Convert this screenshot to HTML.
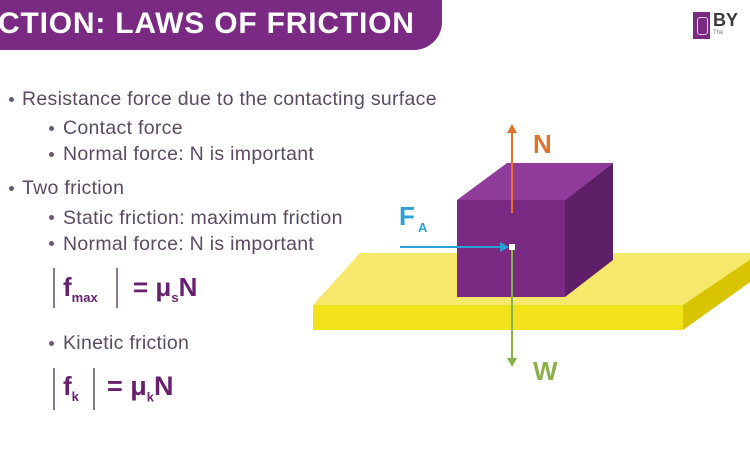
<!DOCTYPE html>
<html><head><meta charset="utf-8"><style>
body{margin:0;width:750px;height:450px;background:#fff;overflow:hidden;position:relative;font-family:"Liberation Sans",sans-serif}
.t{position:absolute;color:#5a4a62;font-size:19.5px;white-space:nowrap;line-height:22px;letter-spacing:0.3px}
.b{position:absolute;width:5px;height:5px;border-radius:50%;background:#6a5a70}
.f{position:absolute;color:#6a1f6e;font-weight:bold;font-size:26px;white-space:nowrap}
.bar{position:absolute;width:2px;background:#8a7a90}
</style></head><body>
<div style="position:absolute;left:0;top:0;width:442px;height:50px;background:#7b2a84;border-bottom-right-radius:28px"></div>
<div style="position:absolute;left:-2px;top:7px;color:#fff;font-weight:bold;font-size:30px;letter-spacing:0.8px;white-space:nowrap">CTION: LAWS OF FRICTION</div>
<div style="position:absolute;left:693px;top:12px;width:17px;height:27px;background:#7b2a84"></div>
<div style="position:absolute;left:697px;top:17px;width:9px;height:16px;border:1px solid #e8c8ee;border-radius:3px"></div>
<div style="position:absolute;left:713px;top:10px;color:#3a3a3a;font-weight:bold;font-size:18px">BY</div>
<div style="position:absolute;left:713px;top:30px;color:#777;font-size:6px">The</div>

<div class="b" style="left:9px;top:97px"></div><div class="t" style="left:22px;top:88px">Resistance force due to the contacting surface</div>
<div class="b" style="left:49px;top:126px"></div><div class="t" style="left:63px;top:117px">Contact force</div>
<div class="b" style="left:49px;top:152px"></div><div class="t" style="left:63px;top:143px">Normal force: N is important</div>
<div class="b" style="left:9px;top:186px"></div><div class="t" style="left:22px;top:177px">Two friction</div>
<div class="b" style="left:49px;top:215px"></div><div class="t" style="left:63px;top:207px">Static friction: maximum friction</div>
<div class="b" style="left:49px;top:241px"></div><div class="t" style="left:63px;top:233px">Normal force: N is important</div>
<div class="bar" style="left:53px;top:268px;height:40px"></div>
<div class="f" style="left:63px;top:272px">f<sub style="font-size:13px">max</sub></div>
<div class="bar" style="left:116px;top:268px;height:40px"></div>
<div class="f" style="left:133px;top:272px">= μ<sub style="font-size:13px">s</sub>N</div>
<div class="b" style="left:49px;top:341px"></div><div class="t" style="left:63px;top:332px">Kinetic friction</div>
<div class="bar" style="left:53px;top:368px;height:42px"></div>
<div class="f" style="left:63px;top:371px">f<sub style="font-size:13px">k</sub></div>
<div class="bar" style="left:93px;top:368px;height:42px"></div>
<div class="f" style="left:107px;top:371px;font-size:27px">= μ<sub style="font-size:13px">k</sub>N</div>

<svg style="position:absolute;left:0;top:0" width="750" height="450">
<polygon points="313,305 360,253 760,253 690,305" fill="#f6e86a"/>
<polygon points="313,305 690,305 683,330 313,330" fill="#f2e21a"/>
<polygon points="683,305 760,253 760,275 683,330" fill="#d8c400"/>
<polygon points="457,200 507,163 613,163 565,200" fill="#8f3c9b"/>
<polygon points="457,200 565,200 565,297 457,297" fill="#7b2a84"/>
<polygon points="565,200 613,163 613,260 565,297" fill="#5e1f68"/>
<line x1="512" y1="213" x2="512" y2="130" stroke="#e0732c" stroke-width="2"/>
<polygon points="507,133 517,133 512,124" fill="#e0732c"/>
<line x1="400" y1="247" x2="505" y2="247" stroke="#2aa0d8" stroke-width="2"/>
<polygon points="500,242 500,252 509,247" fill="#2aa0d8"/>
<line x1="512" y1="250" x2="512" y2="362" stroke="#8bb04a" stroke-width="2"/>
<polygon points="507,358 517,358 512,367" fill="#8bb04a"/>
<rect x="509" y="244" width="6" height="6" fill="#fff"/>
<text x="533" y="153" fill="#e0732c" font-family="Liberation Sans" font-weight="bold" font-size="26">N</text>
<text x="399" y="225" fill="#2aa0d8" font-family="Liberation Sans" font-weight="bold" font-size="26">F</text>
<text x="418" y="232" fill="#2aa0d8" font-family="Liberation Sans" font-weight="bold" font-size="13">A</text>
<text x="533" y="380" fill="#8bb04a" font-family="Liberation Sans" font-weight="bold" font-size="26">W</text>
</svg>
</body></html>
